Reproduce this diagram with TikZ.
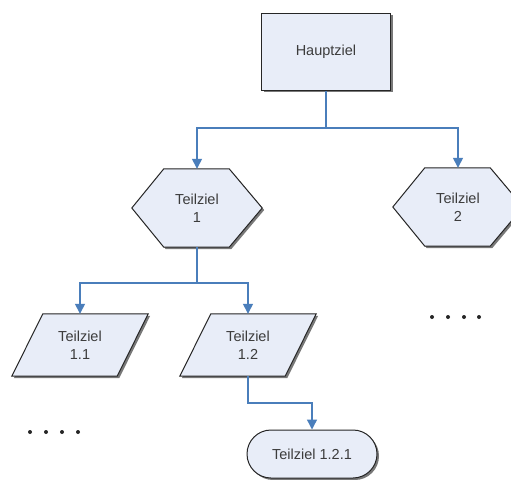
\documentclass[tikz,border=0pt]{standalone}
\usepackage{fontspec}
\setmainfont{Liberation Sans}
\usetikzlibrary{arrows.meta,calc,shadows,shapes.misc,backgrounds}
\definecolor{boxfill}{HTML}{E8EDF8}
\definecolor{conncol}{HTML}{4A7EBB}
\definecolor{txt}{HTML}{3C3C3C}
\begin{document}
\begin{tikzpicture}[x=1pt,y=-1pt,
  lbl/.style={align=center,text=txt,font=\fontsize{14.5}{18}\selectfont,inner sep=0pt},
  outline/.style={draw=black!85,line width=1pt,fill=boxfill,
    drop shadow={shadow xshift=2pt,shadow yshift=-2pt,opacity=0.7,fill=black!75}},
  conn/.style={draw=conncol,line width=1.4pt},
  arr/.style={conn,-{Triangle[width=10pt,length=10pt]}},
  dotmark/.style={circle,fill=black!85,inner sep=0pt,minimum size=4pt}]
\useasboundingbox (0,0) rectangle (511,479);

% nodes
\node[lbl,outline,rectangle,minimum width=129pt,minimum height=77pt] (h) at (326,51.5) {Hauptziel};
\node[lbl,minimum width=130pt,minimum height=78pt] (t1) at (197,208) {Teilziel\\1};
\node[lbl,minimum width=130pt,minimum height=78pt] (t2) at (458,207) {Teilziel\\2};
\node[lbl,minimum width=136pt,minimum height=62pt] (p11) at (80,345) {Teilziel\\1.1};
\node[lbl,minimum width=136pt,minimum height=62pt] (p12) at (248,345) {Teilziel\\1.2};
\node[lbl,outline,rounded rectangle,minimum width=130pt,minimum height=48pt] (term) at (312,454) {Teilziel 1.2.1};

\begin{pgfonlayer}{background}
  \fill[white] (0,0) rectangle (511,479);
  \foreach \n in {t1,t2}{
    \path[outline] (\n.west) -- ($(\n.north west)+(32,0)$) -- ($(\n.north east)+(-33,0)$)
      -- (\n.east) -- ($(\n.south east)+(-33,0)$) -- ($(\n.south west)+(32,0)$) -- cycle;
  }
  \foreach \n in {p11,p12}{
    \path[outline] ($(\n.north west)+(31,0)$) -- (\n.north east)
      -- ($(\n.south east)+(-31,0)$) -- (\n.south west) -- cycle;
  }
\end{pgfonlayer}

% connectors
\coordinate (j1) at (326,128);
\coordinate (j2) at (197,283);
\coordinate (j3) at (248,403);
\draw[conn] (h.south) -- (j1);
\draw[arr] (j1) -| (t1.north);
\draw[arr] (j1) -| (t2.north);
\draw[conn] (t1.south) -- (j2);
\draw[arr] (j2) -| (p11.north);
\draw[arr] (j2) -| (p12.north);
\draw[arr] (p12.south) -- (j3) -| (term.north);

% dots
\foreach \x [count=\i] in {432,448,464,479}{
  \node[dotmark] (r\i) at (\x,317) {};
}
\foreach \x [count=\i] in {30,46,62,78}{
  \node[dotmark] (l\i) at (\x,432) {};
}
\end{tikzpicture}
\end{document}
